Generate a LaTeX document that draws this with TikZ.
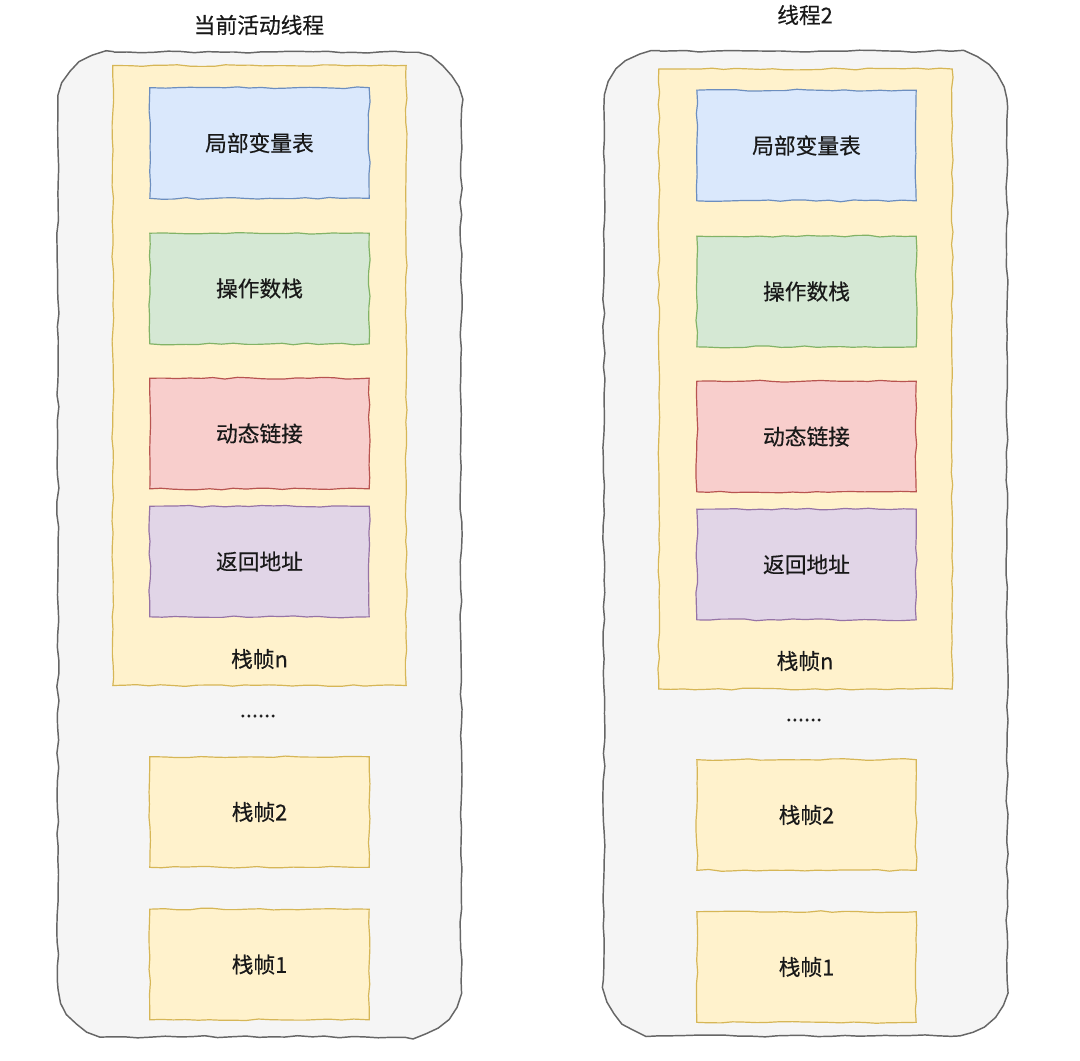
\documentclass[tikz,border=0pt]{standalone}
\usepackage{fontspec}
\setmainfont{Noto Sans CJK SC}[FakeBold=0.4]
\usetikzlibrary{decorations.pathmorphing}
\definecolor{outf}{HTML}{F5F5F5}\definecolor{outd}{HTML}{666666}
\definecolor{yf}{HTML}{FFF2CC}\definecolor{yd}{HTML}{D6B656}
\definecolor{bf}{HTML}{DAE8FC}\definecolor{bd}{HTML}{6C8EBF}
\definecolor{gf}{HTML}{D5E8D4}\definecolor{gd}{HTML}{82B366}
\definecolor{rf}{HTML}{F8CECC}\definecolor{rd}{HTML}{B85450}
\definecolor{pf}{HTML}{E1D5E7}\definecolor{pd}{HTML}{9673A6}
\begin{document}
\pgfmathsetseed{7}
\begin{tikzpicture}[x=0.75pt,y=-0.75pt,
  sk/.style={decorate,decoration={random steps,segment length=9pt,amplitude=0.7pt}},
  txt/.style={font=\fontsize{16.3}{19}\selectfont,text=black!90},
  outer/.style={minimum width=302pt,minimum height=738pt,inner sep=0pt},
  outline/.style={draw=outd,fill=outf,line width=1.1pt,decorate,decoration={random steps,segment length=10pt,amplitude=0.8pt}},
  frame/.style={draw=yd,fill=yf,line width=0.9pt,sk,minimum width=220pt,minimum height=465pt,inner sep=0pt},
  cell/.style={sk,line width=0.9pt,minimum width=164.5pt,minimum height=83pt,inner sep=0pt,txt},
  blue/.style={cell,draw=bd,fill=bf},
  green/.style={cell,draw=gd,fill=gf},
  red/.style={cell,draw=rd,fill=rf},
  purp/.style={cell,draw=pd,fill=pf},
  yel/.style={cell,draw=yd,fill=yf}]
\useasboundingbox (0,0) rectangle (1080,1060);
\def\R{42pt}
% left thread
\node[txt] (tl) at (259,25) {当前活动线程};
\node[outer] (ol) at (259.5,544.5) {};
\path[outline] ([xshift=\R]ol.north west) -- ([xshift=-\R]ol.north east)
  arc[start angle=90,end angle=0,radius=\R] -- ([yshift=\R]ol.south east)
  arc[start angle=0,end angle=-90,radius=\R] -- ([xshift=\R]ol.south west)
  arc[start angle=270,end angle=180,radius=\R] -- ([yshift=-\R]ol.north west)
  arc[start angle=180,end angle=90,radius=\R] -- cycle;
\node[frame] (fl) at (259.5,375.5) {};
\node[blue] (l1) at (259.5,143) {局部变量表};
\node[green] (l2) at (259.5,288.5) {操作数栈};
\node[red] (l3) at (259.5,433.5) {动态链接};
\node[purp] (l4) at (259.5,561.5) {返回地址};
\node[txt] (ln) at (259.5,659) {栈帧n};
\node[txt] (ld) at (258,716) {......};
\node[yel] (lb) at (259.5,812) {栈帧2};
\node[yel] (la) at (259.5,964.5) {栈帧1};
% right thread
\node[txt] (tr) at (805,15) {线程2};
\node[outer] (or) at (805.5,543.5) {};
\path[outline] ([xshift=\R]or.north west) -- ([xshift=-\R]or.north east)
  arc[start angle=90,end angle=0,radius=\R] -- ([yshift=\R]or.south east)
  arc[start angle=0,end angle=-90,radius=\R] -- ([xshift=\R]or.south west)
  arc[start angle=270,end angle=180,radius=\R] -- ([yshift=-\R]or.north west)
  arc[start angle=180,end angle=90,radius=\R] -- cycle;
\node[frame] (fr) at (805.5,379) {};
\node[blue] (r1) at (806.5,145.5) {局部变量表};
\node[green] (r2) at (806.5,291.5) {操作数栈};
\node[red] (r3) at (806.5,436.5) {动态链接};
\node[purp] (r4) at (806.5,564.5) {返回地址};
\node[txt] (rn) at (805,661) {栈帧n};
\node[txt] (rd) at (804,720) {......};
\node[yel] (rb) at (806.5,815) {栈帧2};
\node[yel] (ra) at (806.5,967) {栈帧1};
\end{tikzpicture}
\end{document}
